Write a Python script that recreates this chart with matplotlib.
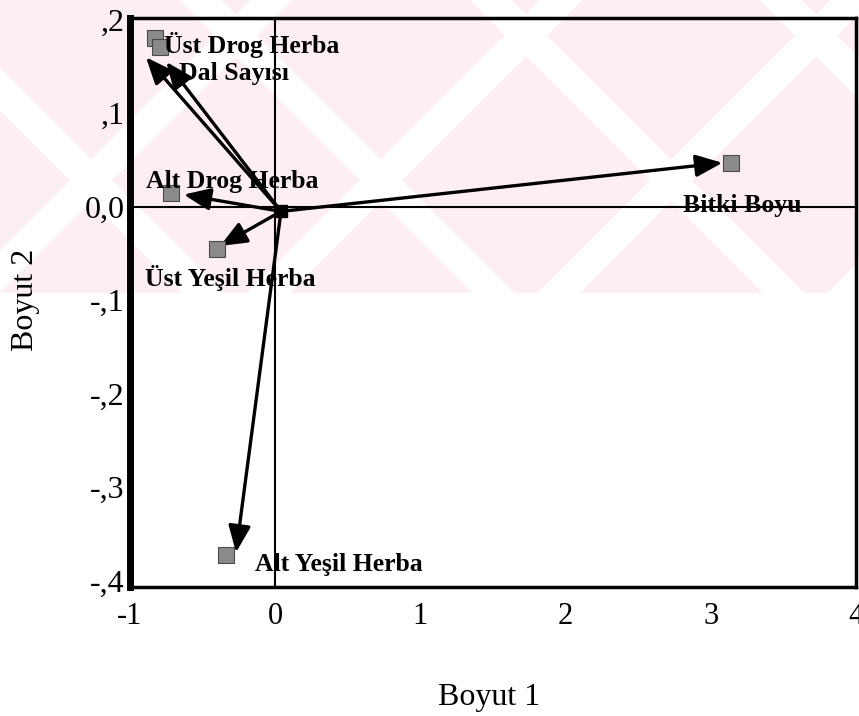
import numpy as np
import matplotlib
matplotlib.use("Agg")
import matplotlib.pyplot as plt

# variables of the biplot
labels = ["Üst Drog Herba", "Dal Sayısı", "Alt Drog Herba",
          "Üst Yeşil Herba", "Alt Yeşil Herba", "Bitki Boyu"]
# square markers (Boyut 1, Boyut 2)
point_x = [-0.83, -0.79, -0.72, -0.40, -0.34, 3.14]
point_y = [0.181, 0.171, 0.015, -0.045, -0.373, 0.047]
# arrow tips
arrow_x = [-0.89, -0.75, -0.63, -0.38, -0.27, 3.08]
arrow_y = [0.160, 0.155, 0.013, -0.042, -0.370, 0.047]
# common arrow origin
origin_x, origin_y = 0.04, -0.005

x_ticks = [-1, 0, 1, 2, 3, 4]
x_ticklabels = ["-1", "0", "1", "2", "3", "4"]
y_ticks = [0.2, 0.1, 0.0, -0.1, -0.2, -0.3, -0.4]
y_ticklabels = [",2", ",1", "0,0", "-,1", "-,2", "-,3", "-,4"]

# label offsets in points relative to the square
label_offsets = [(7, -5), (13, -19), (-18, 8), (-52, -21), (21, -7), (-35, -31)]

serif = ["Liberation Serif", "DejaVu Serif"]

W, H = 859, 716
fig = plt.figure(figsize=(W / 100, H / 100), dpi=100)

# faint pink watermark band at the top of the scanned page
bg = fig.add_axes([0, 0, 1, 1], zorder=-5)
yy, xx = np.mgrid[0:H, 0:W]
band = yy < 293
white_a = ((xx + yy + 40) % 290) < 42
white_b = ((xx - yy + 400) % 290) < 42
pink = band & ~(white_a | white_b)
img = np.ones((H, W, 3))
img[pink] = np.array([253, 238, 241]) / 255.0
bg.imshow(img, aspect="auto", interpolation="nearest")
bg.axis("off")

ax = fig.add_axes([130 / W, 1 - 587 / H, (856 - 130) / W, (587 - 18) / H])
ax.set_facecolor("none")
ax.set_xlim(-1, 4)
ax.set_ylim(-0.407, 0.202)

# reference lines through the origin
ax.axhline(0, color="black", lw=1.5, zorder=1)
ax.axvline(0, color="black", lw=1.5, zorder=1)

for tx, ty in zip(arrow_x, arrow_y):
    ax.annotate("", xy=(tx, ty), xytext=(origin_x, origin_y),
                arrowprops=dict(arrowstyle="-|>,head_length=0.6,head_width=0.25",
                                mutation_scale=27, lw=2.4,
                                color="black", shrinkA=0, shrinkB=0),
                zorder=3)

ax.plot(point_x, point_y, "s", ms=11.5, color="#8a8a8a", mec="#4a4a4a",
        mew=0.8, ls="none", zorder=4)
ax.plot([origin_x], [origin_y], "s", ms=9, color="black", zorder=4)

for lab, px, py, off in zip(labels, point_x, point_y, label_offsets):
    ax.annotate(lab, xy=(px, py), xytext=off, textcoords="offset points",
                ha="left", va="center", fontsize=18.5, fontweight="bold",
                family=serif, zorder=5)

ax.set_xticks(x_ticks)
ax.set_xticklabels(x_ticklabels, family=serif, fontsize=22)
ax.set_yticks(y_ticks)
ax.set_yticklabels(y_ticklabels, family=serif, fontsize=23)
ax.tick_params(axis="both", length=0)
ax.tick_params(axis="x", pad=11)
ax.tick_params(axis="y", pad=4)

for side, spine in ax.spines.items():
    spine.set_color("black")
    spine.set_linewidth(5 if side == "left" else 2.5)

fig.text(489 / W, 1 - 698 / H, "Boyut 1", ha="center", va="center",
         family=serif, fontsize=23)
fig.text(25 / W, 1 - 300 / H, "Boyut 2", ha="center", va="center",
         rotation=90, family=serif, fontsize=23)

fig.savefig("out.png", dpi=100)
